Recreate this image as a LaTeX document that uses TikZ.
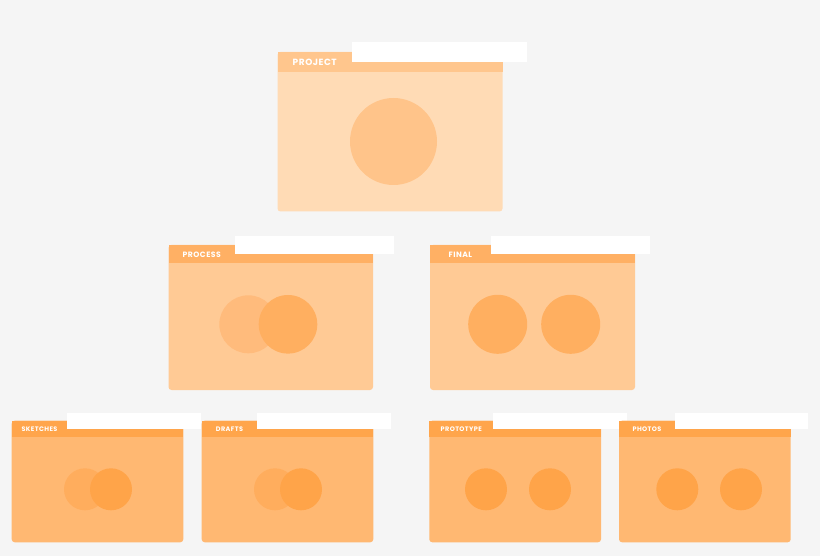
\documentclass[tikz,border=0pt]{standalone}
\usepackage{fontspec}
\newfontfamily\labfont[LetterSpace=6]{Poppins}
\definecolor{bg}{HTML}{F5F5F5}
\definecolor{topbody}{HTML}{FFDBB5}
\definecolor{tophead}{HTML}{FFC68D}
\definecolor{topcirc}{HTML}{FFC48A}
\definecolor{midbody}{HTML}{FFCA95}
\definecolor{midhead}{HTML}{FFB064}
\definecolor{midlight}{HTML}{FFBB7C}
\definecolor{middark}{HTML}{FFAF60}
\definecolor{botbody}{HTML}{FFB872}
\definecolor{bothead}{HTML}{FFA54B}
\definecolor{botlight}{HTML}{FFAD5D}
\definecolor{botdark}{HTML}{FFA449}
% #1 name, #2 label, #3 L, #4 R, #5 T, #6 S (strip bottom), #7 B, #8 tab right, #9 white right
\newcommand\fld[9]{%
  \fill[bodyc, rounded corners=3pt] (#3,#5) rectangle (#4,#7);
  \fill[headc] (#3,#5) rectangle (#4,#6);
  \fill[white] (#8,{#5-(#6-#5)/2}) rectangle (#9,{(#5+#6)/2});
  \node[lab] (#1) at ({(#3+#8)/2},{(#5+#6)/2+0.3}) {#2};
}
\tikzset{
  lab/.style={inner sep=0pt, text=white, font=\labfont\bfseries\labsize},
  toplevel/.style={bodyc/.style={fill=topbody}, headc/.style={fill=tophead}},
  midlevel/.style={bodyc/.style={fill=midbody}, headc/.style={fill=midhead}},
  botlevel/.style={bodyc/.style={fill=botbody}, headc/.style={fill=bothead}},
}
\begin{document}
\begin{tikzpicture}[x=1pt,y=-1pt]
\fill[bg] (0,0) rectangle (820,556);
\useasboundingbox (0,0) rectangle (820,556);
% top level
\begin{scope}[toplevel]
\def\labsize{\fontsize{9}{10}\selectfont}
\fld{project}{PROJECT}{277.5}{502.5}{52}{72.5}{211.5}{352}{527}
\fill[topcirc] (393.5,141.5) circle (43.5);
\end{scope}
% middle level
\begin{scope}[midlevel]
\def\labsize{\fontsize{7.7}{9}\selectfont}
\fld{process}{PROCESS}{168.5}{373}{245}{263.5}{390}{235}{394}
\fill[midlight] (248.3,324.3) circle (29);
\fill[middark] (288,324.3) circle (29.3);
\fld{final}{FINAL}{430}{635}{245}{263.5}{390}{490.7}{650}
\fill[middark] (497.7,324.3) circle (29.5);
\fill[middark] (570.7,324.3) circle (29.5);
\end{scope}
% bottom level
\begin{scope}[botlevel]
\def\labsize{\fontsize{6.5}{8}\selectfont}
\fld{sketches}{SKETCHES}{11.7}{183.3}{420.7}{436.7}{542.3}{67.3}{201}
\fill[botlight] (85,489.3) circle (21);
\fill[botdark] (111,489.3) circle (21);
\fld{drafts}{DRAFTS}{201.7}{373.3}{420.7}{436.7}{542.3}{257.3}{391}
\fill[botlight] (275,489.3) circle (21);
\fill[botdark] (301,489.3) circle (21);
\fld{prototype}{PROTOTYPE}{429.3}{601}{420.7}{436.7}{542.3}{493.3}{626.7}
\fill[botdark] (486,489.3) circle (21);
\fill[botdark] (550,489.3) circle (21);
\fld{photos}{PHOTOS}{619}{790.7}{420.7}{436.7}{542.3}{675}{808.3}
\fill[botdark] (677.3,489.3) circle (21);
\fill[botdark] (741,489.3) circle (21);
\end{scope}
\end{tikzpicture}
\end{document}
